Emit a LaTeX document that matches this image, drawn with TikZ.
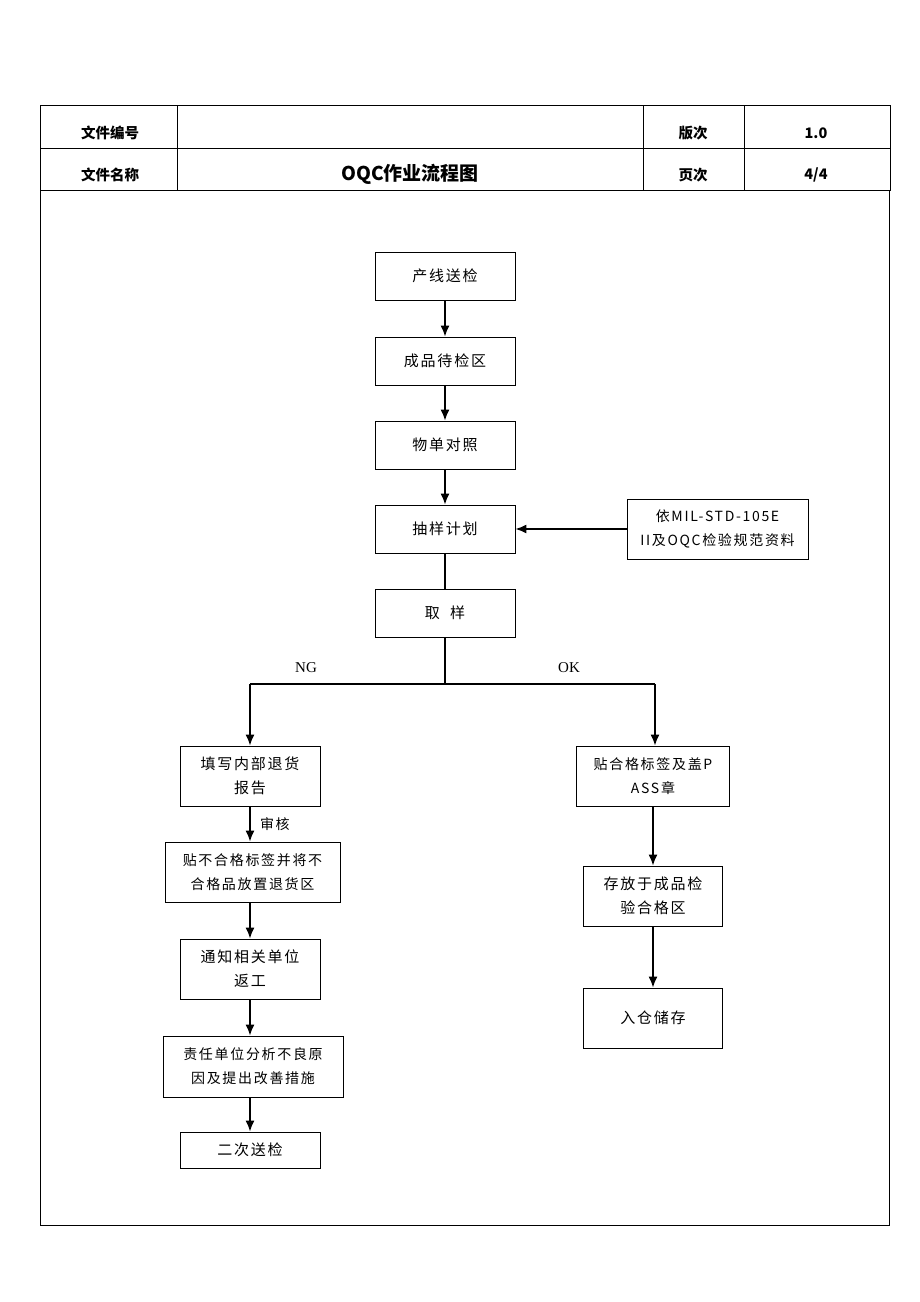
\documentclass[tikz,border=0pt]{standalone}
\usepackage{fontspec}
\setmainfont{Liberation Serif}
\newfontfamily\cjk[LetterSpace=12]{Noto Sans CJK SC}
\newfontfamily\cjkh{Noto Sans CJK SC}
\usetikzlibrary{arrows.meta}
\tikzset{
  box/.style={draw, line width=0.9pt, align=center, inner sep=0pt,
    font=\cjk\fontsize{15}{24}\selectfont},
  arr/.style={line width=1.4pt, -{Latex[length=11pt,width=9pt]}},
  ln/.style={line width=1.4pt},
  hdr/.style={font=\cjkh\bfseries\fontsize{14.5}{14.5}\selectfont},
  tbl/.style={line width=0.9pt}
}
\begin{document}
\begin{tikzpicture}[x=1pt,y=-1pt]
\useasboundingbox (0,0) rectangle (920,1302);
% header table
\draw[tbl] (40,105) rectangle (890,190);
\draw[tbl] (40,148) -- (890,148);
\draw[tbl] (177,105) -- (177,190);
\draw[tbl] (643,105) -- (643,190);
\draw[tbl] (744,105) -- (744,190);
\node[hdr] (h1) at (110,133) {文件编号};
\node[hdr] (h2) at (693,133) {版次};
\node[hdr] (h3) at (816,133) {1.0};
\node[hdr] (h4) at (110,175) {文件名称};
\node[font=\cjkh\bfseries\fontsize{19}{19}\selectfont] (h5) at (410,174) {OQC作业流程图};
\node[hdr] (h6) at (693,175) {页次};
\node[hdr] (h7) at (816,175) {4/4};
% frame
\draw[tbl] (40,190) rectangle (889,1225);
% main column
\node[box, minimum width=140pt, minimum height=48pt] (a1) at (445,276) {产线送检};
\node[box, minimum width=140pt, minimum height=48pt] (a2) at (445,361) {成品待检区};
\node[box, minimum width=140pt, minimum height=48pt] (a3) at (445,445) {物单对照};
\node[box, minimum width=140pt, minimum height=48pt] (a4) at (445,529) {抽样计划};
\node[box, minimum width=181pt, minimum height=60pt, font=\cjk\fontsize{14}{24}\selectfont] (ref) at (717.5,529) {依MIL-STD-105E\\II及OQC检验规范资料};
\node[box, minimum width=140pt, minimum height=48pt] (a5) at (445,613) {取\ \ 样};
\draw[arr] (a1.south) -- (a2.north);
\draw[arr] (a2.south) -- (a3.north);
\draw[arr] (a3.south) -- (a4.north);
\draw[arr] (ref.west) -- (a4.east);
\draw[ln] (a4.south) -- (a5.north);
% split
\coordinate (sp) at (445,684);
\coordinate (spl) at (250,684);
\coordinate (spr) at (655,684);
\draw[ln] (a5.south) -- (sp);
\draw[line width=1.2pt] (spl) -- (spr);
\node[font=\fontsize{15}{15}\selectfont] (ng) at (306,668) {NG};
\node[font=\fontsize{15}{15}\selectfont] (ok) at (569,668) {OK};
% left column
\node[box, minimum width=140pt, minimum height=60pt] (l1) at (250,776) {填写内部退货\\报告};
\node[box, minimum width=175pt, minimum height=60pt, font=\cjk\fontsize{14}{24}\selectfont] (l2) at (252.5,872) {贴不合格标签并将不\\合格品放置退货区};
\node[box, minimum width=140pt, minimum height=60pt] (l3) at (250,969) {通知相关单位\\返工};
\node[box, minimum width=180pt, minimum height=61pt, font=\cjk\fontsize{14}{24}\selectfont] (l4) at (253,1066.5) {责任单位分析不良原\\因及提出改善措施};
\node[box, minimum width=140pt, minimum height=36pt] (l5) at (250,1150) {二次送检};
\draw[arr] (spl) -- (spl |- l1.north);
\draw[arr] (l1.south) -- (l1.south |- l2.north) node[midway, right=6pt, font=\cjk\fontsize{14}{14}\selectfont] (sh) {审核};
\draw[arr] (l2.south -| l3.north) -- (l3.north);
\draw[arr] (l3.south) -- (l3.south |- l4.north);
\draw[arr] (l4.south -| l5.north) -- (l5.north);
% right column
\node[box, minimum width=153pt, minimum height=60pt, font=\cjk\fontsize{14}{24}\selectfont] (r1) at (653,776) {贴合格标签及盖P\\ASS章};
\node[box, minimum width=139pt, minimum height=60pt] (r2) at (653,896) {存放于成品检\\验合格区};
\node[box, minimum width=139pt, minimum height=60pt] (r3) at (653,1018) {入仓储存};
\draw[arr] (spr) -- (spr |- r1.north);
\draw[arr] (r1.south) -- (r2.north);
\draw[arr] (r2.south) -- (r3.north);
\end{tikzpicture}
\end{document}
